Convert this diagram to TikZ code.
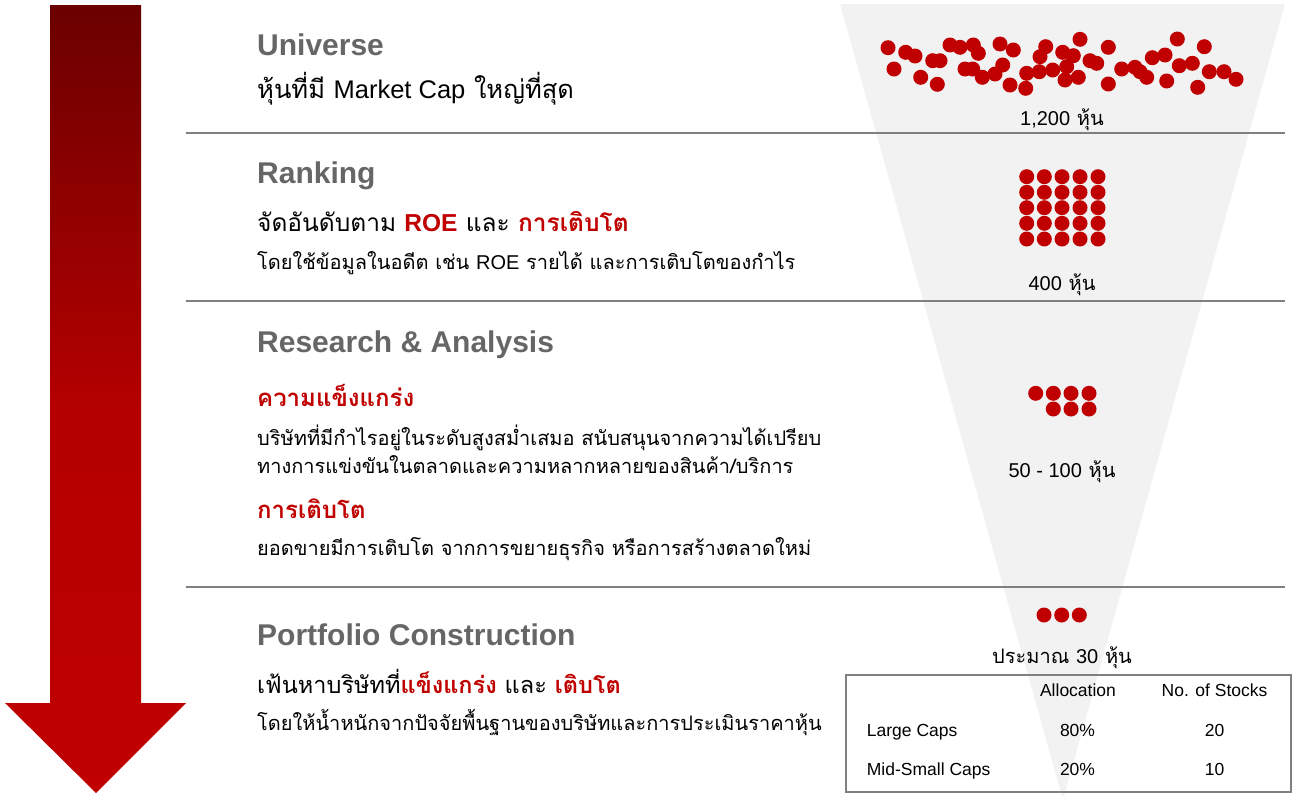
\documentclass[tikz,border=0pt]{standalone}
\usepackage{fontspec}
\setmainfont{Liberation Sans}
\newfontfamily\thaifont[Script=Thai]{Loma}
\newcommand{\lat}[1]{{\rmfamily #1}}
\definecolor{arrtop}{HTML}{6B0000}
\definecolor{arrbot}{HTML}{C00000}
\definecolor{dotred}{HTML}{C00000}
\definecolor{titlegray}{HTML}{666666}
\definecolor{funnelgray}{HTML}{F2F2F2}
\definecolor{rulegray}{HTML}{808080}
\tikzset{
  title/.style={anchor=base west, inner sep=0pt, text=titlegray, font=\bfseries\fontsize{30}{32}\selectfont},
  subline/.style={anchor=base west, inner sep=0pt, text=black, font=\thaifont\fontsize{25.5}{27}\selectfont},
  redhead/.style={anchor=base west, inner sep=0pt, text=dotred, font=\thaifont\bfseries\fontsize{24}{26}\selectfont},
  bodyline/.style={anchor=base west, inner sep=0pt, text=black, font=\thaifont\fontsize{20}{22}\selectfont},
  count/.style={anchor=base, inner sep=0pt, text=black, font=\thaifont\fontsize{20}{22}\selectfont},
  tabtext/.style={anchor=base, inner sep=0pt, text=black, font=\fontsize{17.5}{19}\selectfont},
  tableft/.style={anchor=base west, inner sep=0pt, text=black, font=\fontsize{17.5}{19}\selectfont},
  sep/.style={draw=rulegray, line width=1.3pt},
  dot/.style={fill=dotred},
}
\newcommand{\redb}[1]{{\color{dotred}\bfseries #1}}
\begin{document}
\begin{tikzpicture}[x=1pt,y=-1pt]
\useasboundingbox (0,0) rectangle (1297,795);
% funnel
\fill[funnelgray] (840,4) -- (1285,4) -- (1063,800) -- cycle;
% big arrow
\shade[top color=arrtop, bottom color=arrbot, middle color=arrbot!85!arrtop]
  (50,5) -- (141,5) -- (141,703) -- (186,703) -- (96,793) -- (5,703) -- (50,703) -- cycle;
% separators
\coordinate (s1a) at (186,133); \coordinate (s1b) at (1285,133);
\coordinate (s2a) at (186,301); \coordinate (s2b) at (1285,301);
\coordinate (s3a) at (186,587); \coordinate (s3b) at (1285,587);
\draw[sep] (s1a) -- (s1b);
\draw[sep] (s2a) -- (s2b);
\draw[sep] (s3a) -- (s3b);
% universe dots
\foreach \x/\y in {888/47.7,894/69,905.7/52.3,915/56,920.7/77.3,932.7/60.7,940/60.7,937.3/84.3,950/45,960/47.3,973.3/45,978.3/53.3,965/69,972.7/69,982.3/77.3,995/74,1002.7/65,1000/44,1013.3/50,1010/85,1025.7/88.3,1026.7/73.3,1040/56.7,1045.7/46.7,1039.3/71.7,1052.7/70,1062.7/52.3,1073.3/55.7,1066.7/66.7,1065/80,1078.3/77.3,1080/39.3,1090/60.7,1096.7/63.3,1108.3/47.3,1108.3/84,1121.7/69,1135/67.3,1146.7/77.3,1152.3/57.7,1165/55,1177.3/39,1179.3/65.7,1192.3/63.3,1204.3/46.7,1197.7/87.3,1209.3/71.7,1224/71.7,1236/79.3,1166.7/81,1140/71.7}
  \fill[dot] (\x,\y) circle (7.5);
% ranking grid
\foreach \x in {1026.7,1044.3,1062,1080,1098}
  \foreach \y in {176.7,192.3,207.7,223.3,239}
    \fill[dot] (\x,\y) circle (7.5);
% research dots
\foreach \x/\y in {1035.7/393.3,1053.3/393.3,1071/393.3,1089/393.3,1053.3/409,1071/409,1089/409}
  \fill[dot] (\x,\y) circle (7.5);
% portfolio dots
\foreach \x in {1044,1061.7,1079.3}
  \fill[dot] (\x,615) circle (7.5);
% texts: Universe
\node[title] (t1) at (257,55) {Universe};
\node[subline] (s1) at (257,98) {หุ้นที่มี \lat{Market Cap} ใหญ่ที่สุด};
\node[count] (c1) at (1062,125) {\lat{1,200} หุ้น};
% Ranking
\node[title] (t2) at (257,183) {Ranking};
\node[subline, font=\thaifont\fontsize{24.5}{26}\selectfont] (s2) at (257,231) {จัดอันดับตาม \lat{\redb{ROE}} และ \redb{การเติบโต}};
\node[bodyline] (b2) at (257,269) {โดยใช้ข้อมูลในอดีต เช่น \lat{ROE} รายได้ และการเติบโตของกำไร};
\node[count] (c2) at (1062,290) {\lat{400} หุ้น};
% Research
\node[title] (t3) at (257,352) {Research \& Analysis};
\node[redhead] (h3a) at (257,406) {ความแข็งแกร่ง};
\node[bodyline] (b3a) at (257,445) {บริษัทที่มีกำไรอยู่ในระดับสูงสม่ำเสมอ สนับสนุนจากความได้เปรียบ};
\node[bodyline] (b3b) at (257,473) {ทางการแข่งขันในตลาดและความหลากหลายของสินค้า/บริการ};
\node[redhead] (h3b) at (257,518) {การเติบโต};
\node[bodyline] (b3c) at (257,555) {ยอดขายมีการเติบโต จากการขยายธุรกิจ หรือการสร้างตลาดใหม่};
\node[count] (c3) at (1062,477) {\lat{50 - 100} หุ้น};
% Portfolio
\node[title] (t4) at (257,645) {Portfolio Construction};
\node[subline, font=\thaifont\fontsize{23.5}{25}\selectfont] (s4) at (257,693) {เฟ้นหาบริษัทที่\redb{แข็งแกร่ง} และ \redb{เติบโต}};
\node[bodyline] (b4) at (257,730) {โดยให้น้ำหนักจากปัจจัยพื้นฐานของบริษัทและการประเมินราคาหุ้น};
\node[count] (c4) at (1062,663) {ประมาณ \lat{30} หุ้น};
% table
\draw[draw=rulegray, line width=2pt, fill=none] (846,675) rectangle (1291,792);
\node[tabtext] (h1) at (1078,696) {Allocation};
\node[tabtext] (h2) at (1214.5,696) {No. of Stocks};
\node[tableft] (r1) at (866.7,736) {Large Caps};
\node[tabtext] (r1a) at (1077.5,736) {80\%};
\node[tabtext] (r1b) at (1214.5,736) {20};
\node[tableft] (r2) at (866.7,775) {Mid-Small Caps};
\node[tabtext] (r2a) at (1077.5,775) {20\%};
\node[tabtext] (r2b) at (1214.5,775) {10};
\end{tikzpicture}
\end{document}
